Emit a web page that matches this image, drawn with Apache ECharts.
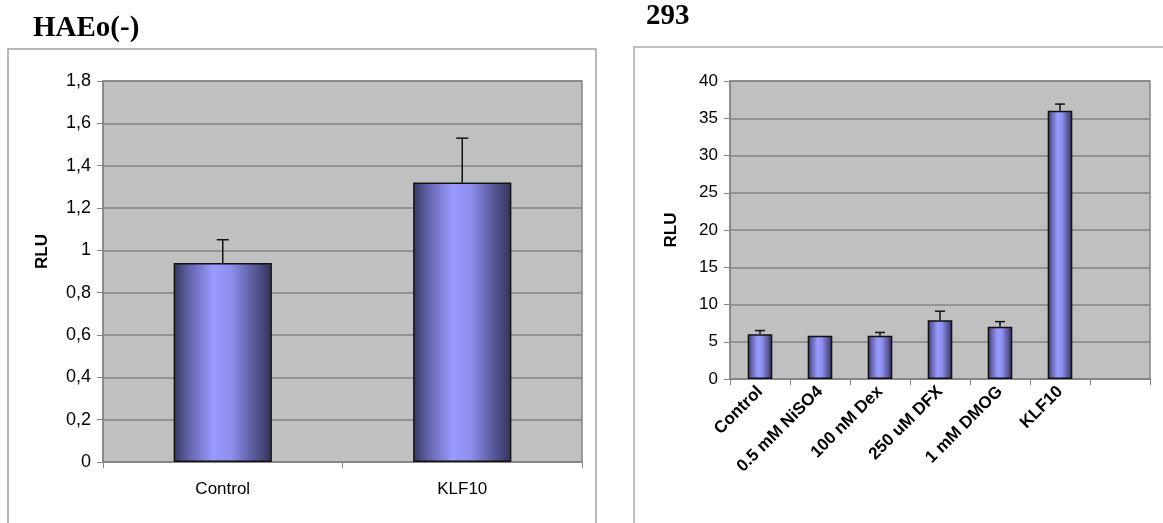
<!DOCTYPE html>
<html>
<head>
<meta charset="utf-8">
<script src="https://cdn.jsdelivr.net/npm/echarts@6/dist/echarts.min.js"></script>
<style>
html,body{margin:0;padding:0;background:#fff;}
#c{width:1163px;height:523px;}
</style>
</head>
<body>
<div id="c"></div>
<script>
// Left panel: HAEo(-)
const leftTitle = 'HAEo(-)';
const leftCategories = ['Control', 'KLF10'];
const leftValues = [0.94, 1.32];
const leftErrors = [0.11, 0.21];

// Right panel: 293
const rightTitle = '293';
const rightCategories = ['Control', '0.5 mM NiSO4', '100 nM Dex', '250 uM DFX', '1 mM DMOG', 'KLF10', ''];
const rightValues = [6.0, 5.8, 5.8, 7.9, 7.0, 36.0, null];
const rightErrors = [0.5, 0, 0.45, 1.2, 0.7, 0.9, null];

const axisName = 'RLU';

const chart = echarts.init(document.getElementById('c'));

const barGradient = new echarts.graphic.LinearGradient(0, 0, 1, 0, [
  {offset: 0, color: '#36365f'},
  {offset: 0.15, color: '#6262a8'},
  {offset: 0.4, color: '#9999ff'},
  {offset: 0.58, color: '#9090f0'},
  {offset: 0.8, color: '#5c5ca0'},
  {offset: 1, color: '#33335a'}
]);

function errRender(capHalf) {
  return function (params, api) {
    const v = api.value(1), e = api.value(2);
    if (v == null || isNaN(v) || !e) return null;
    const base = api.coord([api.value(0), v]);
    const top = api.coord([api.value(0), v + e]);
    const st = {stroke: '#111', lineWidth: 1.5};
    return {
      type: 'group',
      children: [
        {type: 'line', shape: {x1: base[0], y1: base[1], x2: top[0], y2: top[1]}, style: st},
        {type: 'line', shape: {x1: top[0] - capHalf, y1: top[1], x2: top[0] + capHalf, y2: top[1]}, style: st}
      ]
    };
  };
}

const font = 'Liberation Sans, Arial, sans-serif';

chart.setOption({
  animation: false,
  backgroundColor: '#fff',
  title: [
    {text: leftTitle, left: 33, top: 14, padding: 0, textStyle: {fontFamily: 'Liberation Serif, Times New Roman, serif', fontWeight: 'bold', fontSize: 29, color: '#000'}},
    {text: rightTitle, left: 646, top: 2, padding: 0, textStyle: {fontFamily: 'Liberation Serif, Times New Roman, serif', fontWeight: 'bold', fontSize: 29, color: '#000'}}
  ],
  graphic: [
    {type: 'rect', shape: {x: 8, y: 49, width: 588, height: 500}, style: {fill: 'none', stroke: '#a0a0a0', lineWidth: 1.5}, silent: true},
    {type: 'rect', shape: {x: 634, y: 47, width: 560, height: 500}, style: {fill: 'none', stroke: '#c0c0c0', lineWidth: 2}, silent: true}
  ],
  grid: [
    {left: 103, top: 81, width: 479, height: 381, show: true, backgroundColor: '#c0c0c0', borderColor: '#858585', borderWidth: 1.5},
    {left: 730, top: 81, width: 420, height: 298, show: true, backgroundColor: '#c0c0c0', borderColor: '#858585', borderWidth: 1.5}
  ],
  xAxis: [
    {type: 'category', gridIndex: 0, data: leftCategories,
      axisLine: {lineStyle: {color: '#858585', width: 1.5}},
      axisTick: {show: true, length: 6, lineStyle: {color: '#858585'}},
      axisLabel: {color: '#000', fontFamily: font, fontSize: 17, margin: 19}},
    {type: 'category', gridIndex: 1, data: rightCategories,
      axisLine: {lineStyle: {color: '#858585', width: 1.5}},
      axisTick: {show: true, length: 6, lineStyle: {color: '#858585'}},
      axisLabel: {color: '#000', fontFamily: font, fontSize: 17, fontWeight: 'bold', rotate: 45, margin: 10, interval: 0}}
  ],
  yAxis: [
    {type: 'value', gridIndex: 0, min: 0, max: 1.8, interval: 0.2,
      name: axisName, nameLocation: 'middle', nameGap: 52,
      nameTextStyle: {fontFamily: font, fontWeight: 'bold', fontSize: 17, color: '#000', padding: [0, 0, 0, 40]},
      axisLine: {show: true, lineStyle: {color: '#858585', width: 1.5}},
      axisTick: {show: true, length: 6, lineStyle: {color: '#858585'}},
      axisLabel: {color: '#000', fontFamily: font, fontSize: 18, margin: 12,
        formatter: v => (Math.round(v * 10) / 10).toString().replace('.', ',')},
      splitLine: {lineStyle: {color: '#858585', width: 1.5}}},
    {type: 'value', gridIndex: 1, min: 0, max: 40, interval: 5,
      name: axisName, nameLocation: 'middle', nameGap: 50,
      nameTextStyle: {fontFamily: font, fontWeight: 'bold', fontSize: 17, color: '#000'},
      axisLine: {show: true, lineStyle: {color: '#858585', width: 1.5}},
      axisTick: {show: true, length: 6, lineStyle: {color: '#858585'}},
      axisLabel: {color: '#000', fontFamily: font, fontSize: 17, margin: 12},
      splitLine: {lineStyle: {color: '#858585', width: 1.5}}}
  ],
  series: [
    {type: 'bar', xAxisIndex: 0, yAxisIndex: 0, data: leftValues, barWidth: '41%',
      itemStyle: {color: barGradient, borderColor: '#111', borderWidth: 1.5}},
    {type: 'custom', xAxisIndex: 0, yAxisIndex: 0, renderItem: errRender(6), z: 5,
      data: leftValues.map((v, i) => [i, v, leftErrors[i]])},
    {type: 'bar', xAxisIndex: 1, yAxisIndex: 1, data: rightValues, barWidth: '41%',
      itemStyle: {color: barGradient, borderColor: '#111', borderWidth: 1.5}},
    {type: 'custom', xAxisIndex: 1, yAxisIndex: 1, renderItem: errRender(5), z: 5,
      data: rightValues.map((v, i) => [i, v, rightErrors[i]])}
  ]
});
</script>
</body>
</html>
